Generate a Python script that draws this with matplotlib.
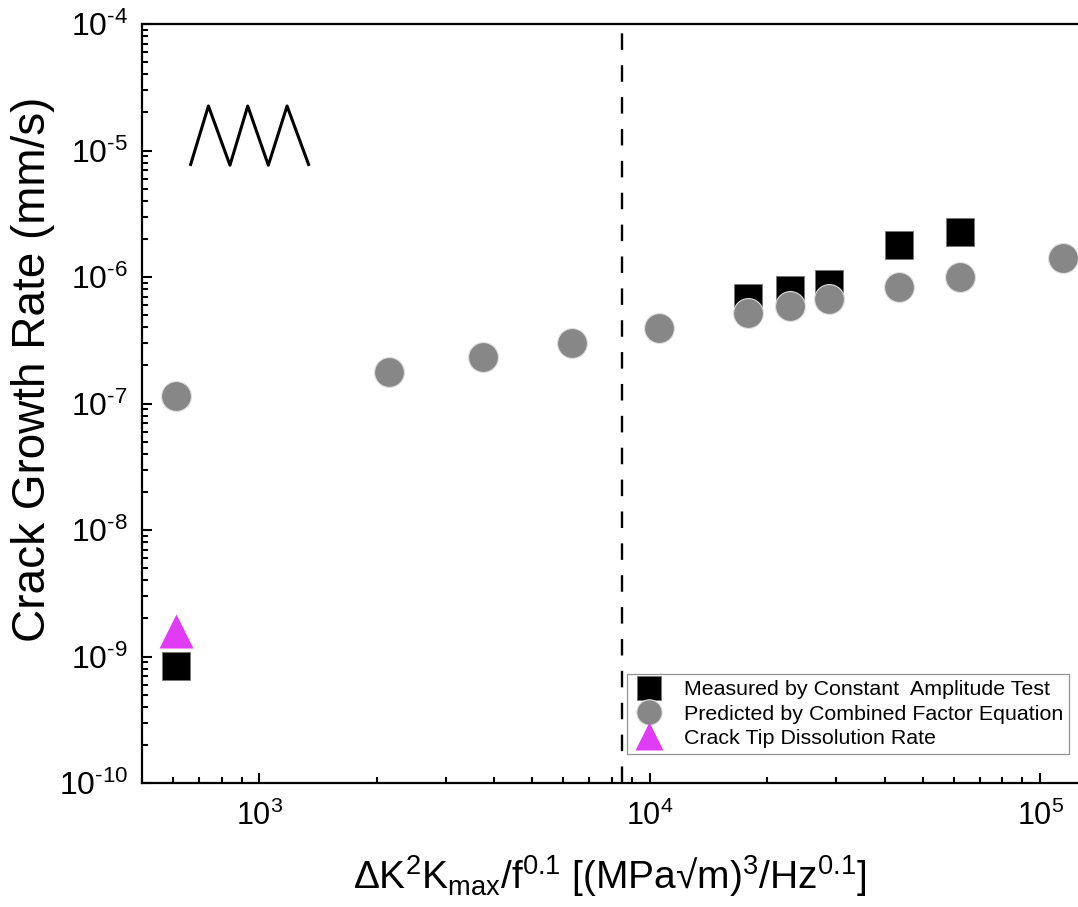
import matplotlib
matplotlib.use('Agg')
import matplotlib.pyplot as plt
from matplotlib.lines import Line2D

plt.rcParams['font.family'] = ['Liberation Sans', 'DejaVu Sans']
plt.rcParams['mathtext.fontset'] = 'custom'
plt.rcParams['mathtext.rm'] = 'Liberation Sans'
plt.rcParams['mathtext.it'] = 'Liberation Sans'
plt.rcParams['mathtext.default'] = 'regular'

# data
x_meas = [610, 17840, 22860, 28700, 43370, 62150]
y_meas = [8.4e-10, 6.82e-7, 7.89e-7, 8.81e-7, 1.78e-6, 2.28e-6]

x_pred = [610, 2153, 3746, 6332, 10576, 17840, 22860, 28700, 43370, 62150, 114300]
y_pred = [1.15e-7, 1.77e-7, 2.33e-7, 3.01e-7, 3.95e-7, 5.16e-7, 5.90e-7,
          6.67e-7, 8.29e-7, 1.005e-6, 1.41e-6]

x_diss = [610]
y_diss = [1.6e-9]

x_split = 8500

y_exp = [-10, -9, -8, -7, -6, -5, -4]
x_exp = [3, 4, 5]

fig = plt.figure(figsize=(10.78, 9.07), dpi=100)
ax = fig.add_axes([0.1317, 0.1367, 0.8683, 0.8368])

ax.plot(x_meas, y_meas, 's', color='black', ms=19.5, mec='#777777', mew=0.6,
        label='Measured by Constant  Amplitude Test', zorder=3)
ax.plot(x_pred, y_pred, 'o', color='#878787', ms=21.5, mec='#dddddd', mew=0.8,
        label='Predicted by Combined Factor Equation', zorder=4)
ax.plot(x_diss, y_diss, '^', color='#E03CF5', ms=24, mec='none',
        label='Crack Tip Dissolution Rate', zorder=4)

ax.axvline(x_split, color='black', lw=1.7, ls=(0, (7, 6.5)), zorder=2)

ax.set_xscale('log')
ax.set_yscale('log')
ax.set_xlim(500, 1.25e5)
ax.set_ylim(1e-10, 1e-4)

ax.set_yticks([10.0 ** e for e in y_exp])
ax.set_yticklabels([r'$10^{\text{-}%d}$' % (-e) for e in y_exp])
ax.set_xticks([10.0 ** e for e in x_exp])
ax.set_xticklabels([r'$10^{%d}$' % e for e in x_exp])

ax.spines['right'].set_visible(False)
for s in ['left', 'bottom', 'top']:
    ax.spines[s].set_linewidth(1.6)

ax.tick_params(which='both', direction='in', top=False, right=False, width=1.5)
ax.tick_params(which='major', length=7.5)
ax.tick_params(axis='x', which='major', pad=13, labelsize=22)
ax.tick_params(axis='y', which='major', pad=10, labelsize=23)
ax.tick_params(which='minor', length=4)

ax.set_xlabel(r'$\Delta K^2K_{max}/f^{0.1}$ $[(MPa$√$m)^3/Hz^{0.1}]$',
              fontsize=28, labelpad=15)
ax.set_ylabel('Crack Growth Rate (mm/s)', fontsize=33)
ax.yaxis.set_label_coords(-0.093, 0.545)

# loading waveform sketch
zx = [0.052, 0.071, 0.094, 0.113, 0.135, 0.155, 0.178]
zy = [0.815, 0.892, 0.814, 0.892, 0.814, 0.892, 0.815]
ax.add_line(Line2D(zx, zy, transform=ax.transAxes, color='black', lw=2.2))

leg = ax.legend(loc='upper left', bbox_to_anchor=(627 / 1078, 1 - 674 / 907),
                bbox_transform=fig.transFigure, fontsize=15.4, frameon=True,
                fancybox=False, edgecolor='#777777', borderaxespad=0,
                borderpad=0.3, labelspacing=0.24, handletextpad=0.85,
                handlelength=1.5, markerscale=0.85)
leg.get_frame().set_linewidth(0.9)

fig.savefig('out.png', dpi=100)
